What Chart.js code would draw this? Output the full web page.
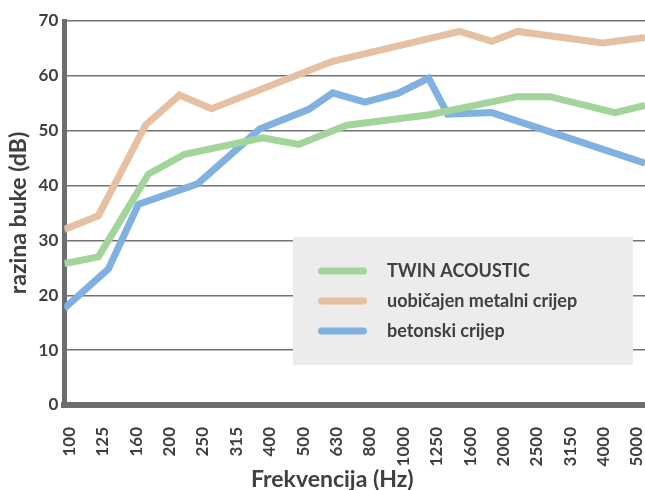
<!DOCTYPE html>
<html>
<head>
<meta charset="utf-8">
<script src="https://cdn.jsdelivr.net/npm/chart.js@4.4.0/dist/chart.umd.min.js"></script>
<style>
  html, body { margin: 0; padding: 0; background: #fff; }
</style>
</head>
<body>
<canvas id="noiseChart" width="645" height="490"></canvas>
<script>
// Frequency bands (Hz) shown on the x axis
const frequencies = ['100', '125', '160', '200', '250', '315', '400', '500', '630', '800',
                     '1000', '1250', '1600', '2000', '2500', '3150', '4000', '5000'];
const yTicks = [0, 10, 20, 30, 40, 50, 60, 70];

// x = position along the band axis (0 = 100 Hz ... 17 = 5000 Hz), y = dB
const twinX = [-0.15, 0.87, 2.37, 3.45, 5.79, 6.87, 8.31, 10.79, 13.40, 14.39, 16.34, 17.24];
const twinY = [25.8, 27.0, 42.1, 45.7, 48.7, 47.5, 51.0, 52.9, 56.2, 56.2, 53.3, 54.6];

const metalX = [-0.15, 0.87, 2.28, 3.30, 4.26, 7.86, 11.69, 12.65, 13.43, 15.98, 17.24];
const metalY = [32.0, 34.5, 51.0, 56.5, 54.0, 62.6, 68.1, 66.3, 68.1, 66.0, 67.0];

const betonX = [-0.15, 1.17, 2.07, 3.84, 5.70, 7.17, 7.89, 8.85, 9.84, 10.76, 11.33, 12.65, 17.24];
const betonY = [17.6, 24.8, 36.6, 40.3, 50.3, 53.9, 56.9, 55.2, 56.8, 59.6, 53.0, 53.3, 44.1];

const textColor = '#404040';
const axisColor = '#6d6e71';
const fontFamily = "Lato, 'Open Sans', sans-serif";

function toPoints(xs, ys) {
    return xs.map((x, i) => ({ x: x, y: ys[i] }));
}

// Grey legend box drawn inside the plot, above the grid lines
const legendBox = {
    id: 'legendBox',
    beforeDatasetsDraw(chart) {
        const { ctx, chartArea } = chart;
        const w = 340, h = 128;
        const left = chartArea.right - 12 - w;
        const top = chartArea.bottom - 40 - h;
        ctx.save();
        ctx.fillStyle = '#ececec';
        ctx.fillRect(left, top, w, h);
        chart.data.datasets.forEach((ds, i) => {
            const y = top + 34 + i * 30;
            ctx.strokeStyle = ds.borderColor;
            ctx.lineWidth = 7;
            ctx.lineCap = 'round';
            ctx.beginPath();
            ctx.moveTo(left + 28.5, y);
            ctx.lineTo(left + 70.5, y);
            ctx.stroke();
            ctx.fillStyle = textColor;
            ctx.font = 'bold 18px ' + fontFamily;
            ctx.textBaseline = 'middle';
            ctx.fillText(ds.label, left + 94, y);
        });
        ctx.restore();
    }
};

const ctx = document.getElementById('noiseChart');

new Chart(ctx, {
    type: 'line',
    data: {
        datasets: [
            {
                label: 'TWIN ACOUSTIC',
                data: toPoints(twinX, twinY),
                borderColor: '#a3d49c',
                borderWidth: 7,
                pointRadius: 0,
                tension: 0
            },
            {
                label: 'uobičajen metalni crijep',
                data: toPoints(metalX, metalY),
                borderColor: '#e5c0a2',
                borderWidth: 7,
                pointRadius: 0,
                tension: 0
            },
            {
                label: 'betonski crijep',
                data: toPoints(betonX, betonY),
                borderColor: '#80b1e0',
                borderWidth: 7,
                pointRadius: 0,
                tension: 0
            }
        ]
    },
    options: {
        responsive: false,
        animation: false,
        layout: {
            padding: { top: 21, right: 0, left: 0, bottom: 0 }
        },
        plugins: {
            legend: { display: false },
            tooltip: { enabled: false }
        },
        scales: {
            x: {
                type: 'linear',
                min: -0.15,
                max: 17.24,
                afterBuildTicks: function(axis) {
                    axis.ticks = frequencies.map((f, i) => ({ value: i }));
                },
                afterFit: function(axis) {
                    // plot runs to the right edge, rotated labels need no side room
                    axis.paddingLeft = 0;
                    axis.paddingRight = 0;
                },
                ticks: {
                    autoSkip: false,
                    minRotation: 90,
                    maxRotation: 90,
                    padding: 14,
                    color: textColor,
                    font: { family: fontFamily, size: 17, weight: 'bold' },
                    callback: function(value) {
                        return frequencies[value];
                    }
                },
                grid: { display: false },
                border: { display: true, color: axisColor, width: 6 },
                title: {
                    display: true,
                    // trailing spaces nudge the centred title left, as in the original
                    text: 'Frekvencija (Hz)' + '\u00a0'.repeat(8),
                    color: textColor,
                    font: { family: fontFamily, size: 23, weight: 'bold' },
                    padding: { top: -15, bottom: -3 }
                }
            },
            y: {
                min: 0,
                max: 70,
                afterBuildTicks: function(axis) {
                    axis.ticks = yTicks.map(v => ({ value: v }));
                },
                ticks: {
                    padding: 6,
                    color: textColor,
                    font: { family: fontFamily, size: 17, weight: 'bold' }
                },
                grid: {
                    color: '#737373',
                    lineWidth: 1.5,
                    drawTicks: false
                },
                border: { display: true, color: axisColor, width: 5 },
                title: {
                    display: true,
                    text: 'razina buke (dB)',
                    color: textColor,
                    font: { family: fontFamily, size: 23, weight: 'bold' },
                    padding: { top: 5, bottom: 0 }
                }
            }
        }
    },
    plugins: [legendBox]
});
</script>
</body>
</html>
